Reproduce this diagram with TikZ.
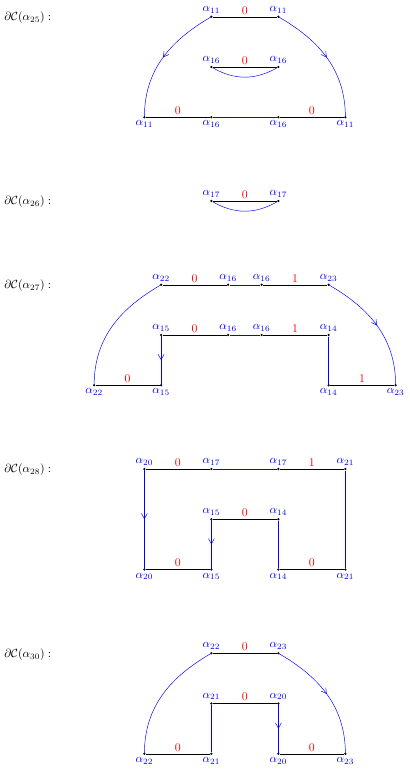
\documentclass[tikz,border=0pt]{standalone}
\usetikzlibrary{arrows.meta,decorations.markings}
\begin{document}
\begin{tikzpicture}[x=1cm,y=-1cm,
  pt/.style={circle,fill=black,inner sep=0pt,minimum size=2.2pt},
  lab/.style={text=blue,inner sep=1.5pt},
  blk/.style={draw=black,line width=0.4pt},
  bl/.style={draw=blue,line width=0.4pt},
  num/.style={text=red,midway,above,inner sep=2pt},
  marr/.style={postaction={decorate},decoration={markings,mark=at position 0.5 with {\arrow{Straight Barb[length=4.5pt,width=5pt]}}}},
  ttl/.style={anchor=west,inner sep=0pt}
]
\useasboundingbox (0,0) rectangle (12.209,22.985);
% ---------- alpha 25 ----------
\node[ttl] (t25) at (0.12,0.52) {$\partial\mathcal{C}(\alpha_{25}):$};
\node[pt,label={[lab]above:$\alpha_{11}$}] (a1) at (6.31,0.5) {};
\node[pt,label={[lab]above:$\alpha_{11}$}] (a2) at (8.31,0.5) {};
\node[pt,label={[lab]above:$\alpha_{16}$}] (a3) at (6.31,2) {};
\node[pt,label={[lab]above:$\alpha_{16}$}] (a4) at (8.31,2) {};
\node[pt,label={[lab]below:$\alpha_{11}$}] (a5) at (4.31,3.5) {};
\node[pt,label={[lab]below:$\alpha_{16}$}] (a6) at (6.31,3.5) {};
\node[pt,label={[lab]below:$\alpha_{16}$}] (a7) at (8.31,3.5) {};
\node[pt,label={[lab]below:$\alpha_{11}$}] (a8) at (10.31,3.5) {};
\draw[blk] (a1) -- (a2) node[num]{$0$};
\draw[blk] (a3) -- (a4) node[num]{$0$};
\draw[bl] (a3) to[bend right=30] (a4);
\draw[blk] (a5) -- (a6) node[num]{$0$};
\draw[bl] (a6) -- (a7);
\draw[blk] (a7) -- (a8) node[num]{$0$};
\draw[bl,marr] (a1.center) to[out=210,in=90] (a5.center);
\draw[bl,marr] (a2.center) to[out=-30,in=90] (a8.center);
% ---------- alpha 26 ----------
\node[ttl] (t26) at (0.12,6.02) {$\partial\mathcal{C}(\alpha_{26}):$};
\node[pt,label={[lab]above:$\alpha_{17}$}] (b1) at (6.31,6) {};
\node[pt,label={[lab]above:$\alpha_{17}$}] (b2) at (8.31,6) {};
\draw[blk] (b1) -- (b2) node[num]{$0$};
\draw[bl] (b1) to[bend right=30] (b2);
% ---------- alpha 27 ----------
\node[ttl] (t27) at (0.12,8.52) {$\partial\mathcal{C}(\alpha_{27}):$};
\node[pt,label={[lab]above:$\alpha_{22}$}] (c1) at (4.81,8.5) {};
\node[pt,label={[lab]above:$\alpha_{16}$}] (c2) at (6.81,8.5) {};
\node[pt,label={[lab]above:$\alpha_{16}$}] (c3) at (7.81,8.5) {};
\node[pt,label={[lab]above:$\alpha_{23}$}] (c4) at (9.81,8.5) {};
\node[pt,label={[lab]above:$\alpha_{15}$}] (c5) at (4.81,10) {};
\node[pt,label={[lab]above:$\alpha_{16}$}] (c6) at (6.81,10) {};
\node[pt,label={[lab]above:$\alpha_{16}$}] (c7) at (7.81,10) {};
\node[pt,label={[lab]above:$\alpha_{14}$}] (c8) at (9.81,10) {};
\node[pt,label={[lab]below:$\alpha_{22}$}] (c9) at (2.81,11.5) {};
\node[pt,label={[lab]below:$\alpha_{15}$}] (c10) at (4.81,11.5) {};
\node[pt,label={[lab]below:$\alpha_{14}$}] (c11) at (9.81,11.5) {};
\node[pt,label={[lab]below:$\alpha_{23}$}] (c12) at (11.81,11.5) {};
\draw[blk] (c1) -- (c2) node[num]{$0$};
\draw[bl] (c2) -- (c3);
\draw[blk] (c3) -- (c4) node[num]{$1$};
\draw[blk] (c5) -- (c6) node[num]{$0$};
\draw[bl] (c6) -- (c7);
\draw[blk] (c7) -- (c8) node[num]{$1$};
\draw[bl,marr] (c5.center) -- (c10.center);
\draw[bl] (c8) -- (c11);
\draw[blk] (c9) -- (c10) node[num]{$0$};
\draw[blk] (c11) -- (c12) node[num]{$1$};
\draw[bl] (c9.center) to[out=90,in=210] (c1.center);
\draw[bl,marr] (c4.center) to[out=-30,in=90] (c12.center);
% ---------- alpha 28 ----------
\node[ttl] (t28) at (0.12,14.02) {$\partial\mathcal{C}(\alpha_{28}):$};
\node[pt,label={[lab]above:$\alpha_{20}$}] (d1) at (4.31,14) {};
\node[pt,label={[lab]above:$\alpha_{17}$}] (d2) at (6.31,14) {};
\node[pt,label={[lab]above:$\alpha_{17}$}] (d3) at (8.31,14) {};
\node[pt,label={[lab]above:$\alpha_{21}$}] (d4) at (10.31,14) {};
\node[pt,label={[lab]above:$\alpha_{15}$}] (d5) at (6.31,15.5) {};
\node[pt,label={[lab]above:$\alpha_{14}$}] (d6) at (8.31,15.5) {};
\node[pt,label={[lab]below:$\alpha_{20}$}] (d7) at (4.31,17) {};
\node[pt,label={[lab]below:$\alpha_{15}$}] (d8) at (6.31,17) {};
\node[pt,label={[lab]below:$\alpha_{14}$}] (d9) at (8.31,17) {};
\node[pt,label={[lab]below:$\alpha_{21}$}] (d10) at (10.31,17) {};
\draw[blk] (d1) -- (d2) node[num]{$0$};
\draw[bl] (d2) -- (d3);
\draw[blk] (d3) -- (d4) node[num]{$1$};
\draw[blk] (d5) -- (d6) node[num]{$0$};
\draw[bl,marr] (d1.center) -- (d7.center);
\draw[bl] (d4) -- (d10);
\draw[bl,marr] (d5.center) -- (d8.center);
\draw[bl] (d6) -- (d9);
\draw[blk] (d7) -- (d8) node[num]{$0$};
\draw[blk] (d9) -- (d10) node[num]{$0$};
% ---------- alpha 30 ----------
\node[ttl] (t30) at (0.12,19.55) {$\partial\mathcal{C}(\alpha_{30}):$};
\node[pt,label={[lab]above:$\alpha_{22}$}] (e1) at (6.31,19.5) {};
\node[pt,label={[lab]above:$\alpha_{23}$}] (e2) at (8.31,19.5) {};
\node[pt,label={[lab]above:$\alpha_{21}$}] (e3) at (6.31,21) {};
\node[pt,label={[lab]above:$\alpha_{20}$}] (e4) at (8.31,21) {};
\node[pt,label={[lab]below:$\alpha_{22}$}] (e5) at (4.31,22.5) {};
\node[pt,label={[lab]below:$\alpha_{21}$}] (e6) at (6.31,22.5) {};
\node[pt,label={[lab]below:$\alpha_{20}$}] (e7) at (8.31,22.5) {};
\node[pt,label={[lab]below:$\alpha_{23}$}] (e8) at (10.31,22.5) {};
\draw[blk] (e1) -- (e2) node[num]{$0$};
\draw[blk] (e3) -- (e4) node[num]{$0$};
\draw[bl] (e3) -- (e6);
\draw[bl,marr] (e4.center) -- (e7.center);
\draw[blk] (e5) -- (e6) node[num]{$0$};
\draw[blk] (e7) -- (e8) node[num]{$0$};
\draw[bl] (e5.center) to[out=90,in=210] (e1.center);
\draw[bl,marr] (e2.center) to[out=-30,in=90] (e8.center);
\end{tikzpicture}
\end{document}
